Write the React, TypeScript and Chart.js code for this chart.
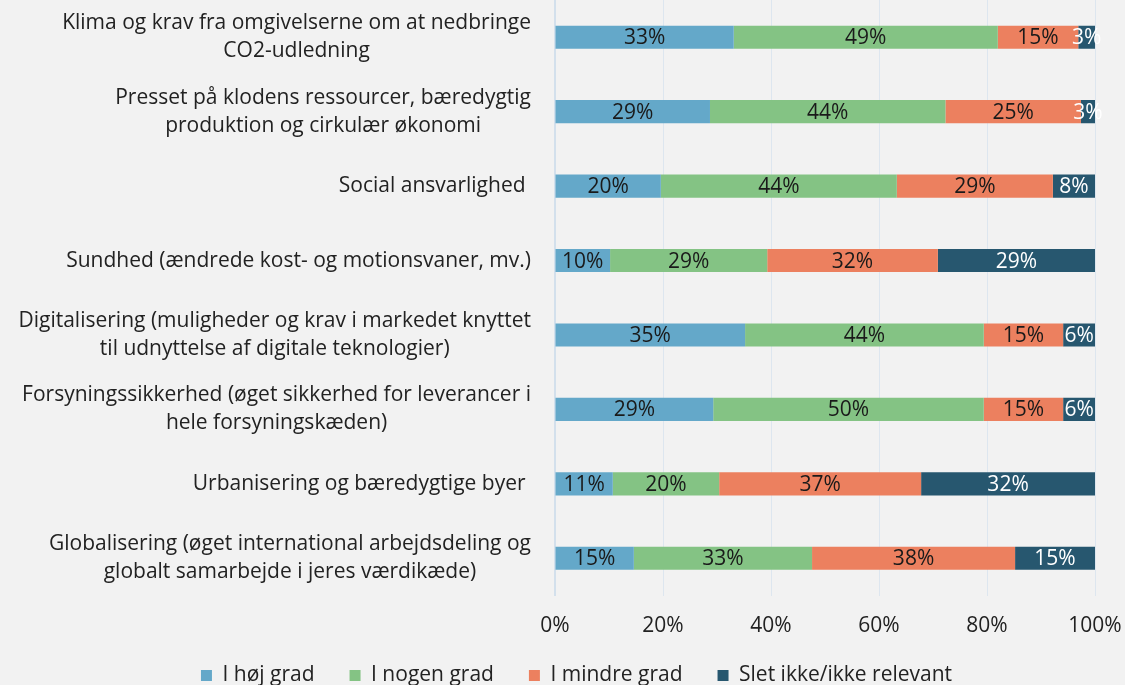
import React, { useEffect, useRef } from "react";
import { Chart, registerables } from "chart.js";

Chart.register(...registerables);

const categories: string[][] = [
  ["Klima og krav fra omgivelserne om at nedbringe", "CO2-udledning"],
  ["Presset på klodens ressourcer, bæredygtig", "produktion og cirkulær økonomi"],
  ["Social ansvarlighed "],
  ["Sundhed (ændrede kost- og motionsvaner, mv.)"],
  ["Digitalisering (muligheder og krav i markedet knyttet", "til udnyttelse af digitale teknologier)"],
  ["Forsyningssikkerhed (øget sikkerhed for leverancer i", "hele forsyningskæden)"],
  ["Urbanisering og bæredygtige byer "],
  ["Globalisering (øget international arbejdsdeling og", "globalt samarbejde i jeres værdikæde)"],
];

const seriesNames = ["I høj grad", "I nogen grad", "I mindre grad", "Slet ikke/ikke relevant"];
const hoejGrad = [33.1, 28.7, 19.6, 10.2, 35.2, 29.3, 10.7, 14.6];
const nogenGrad = [48.9, 43.6, 43.7, 29.1, 44.2, 50.1, 19.7, 33.0];
const mindreGrad = [14.9, 25.1, 28.9, 31.6, 14.7, 14.7, 37.4, 37.6];
const sletIkke = [3.1, 2.6, 7.8, 29.1, 5.9, 5.9, 32.2, 14.8];
const xTicks = [0, 20, 40, 60, 80, 100];

const colors = ["#64a8c9", "#84c384", "#ec805f", "#27576f"];
const labelColors = ["#1a1a1a", "#1a1a1a", "#1a1a1a", "#ffffff"];
const FONT = "'Open Sans', sans-serif";
const TEXT = "#222222";
const FS = 21;

export default function App() {
  const ref = useRef<HTMLCanvasElement | null>(null);

  useEffect(() => {
    document.body.style.margin = "0";
    document.body.style.background = "#f2f2f2";
    document.documentElement.style.overflow = "hidden";
    if (!ref.current) return;

    const valueLabels = {
      id: "valueLabels",
      afterDatasetsDraw(chart: any) {
        const ctx = chart.ctx;
        ctx.save();
        ctx.font = `${FS}px ${FONT}`;
        ctx.textAlign = "center";
        ctx.textBaseline = "middle";
        chart.data.datasets.forEach((ds: any, di: number) => {
          const meta = chart.getDatasetMeta(di);
          meta.data.forEach((el: any, i: number) => {
            const v = ds.data[i];
            const cx = (el.x + el.base) / 2;
            ctx.fillStyle = labelColors[di];
            ctx.fillText(Math.round(v) + "%", cx, el.y + 1);
          });
        });
        ctx.restore();
      },
    };

    const axisLabels = {
      id: "axisLabels",
      afterDraw(chart: any) {
        const ctx = chart.ctx;
        const y = chart.scales.y;
        const x = chart.scales.x;
        ctx.save();
        ctx.font = `${FS}px ${FONT}`;
        ctx.fillStyle = TEXT;
        ctx.textAlign = "center";
        ctx.textBaseline = "middle";
        const right = 531;
        const lh = 28;
        categories.forEach((lines, i) => {
          const cy = y.getPixelForValue(i);
          const w = Math.max(...lines.map((l) => ctx.measureText(l).width));
          const cx = right - w / 2;
          const top = cy - ((lines.length - 1) * lh) / 2;
          lines.forEach((l, k) => ctx.fillText(l, cx, top + k * lh));
        });
        const ty = chart.chartArea.bottom + 31;
        xTicks.forEach((v) => {
          ctx.fillText(v + "%", x.getPixelForValue(v), ty);
        });
        ctx.restore();
      },
    };

    const chart = new Chart(ref.current, {
      type: "bar",
      data: {
        labels: categories.map((c) => c.join(" ")),
        datasets: [hoejGrad, nogenGrad, mindreGrad, sletIkke].map((d, i) => ({
          label: seriesNames[i],
          data: d,
          backgroundColor: colors[i],
          borderWidth: 0,
          barPercentage: 0.31,
          categoryPercentage: 1,
        })),
      },
      options: {
        indexAxis: "y",
        responsive: false,
        animation: false,
        layout: { padding: { left: 58, right: 30, top: 0, bottom: 0 } },
        scales: {
          x: {
            stacked: true,
            min: 0,
            max: 100,
            afterBuildTicks(scale: any) {
              scale.ticks = xTicks.map((v) => ({ value: v }));
            },
            afterFit(scale: any) {
              scale.height = 34.5;
              scale.paddingRight = 0;
              scale.paddingLeft = 0;
            },
            ticks: { display: false },
            grid: { color: "#dde6ef", drawTicks: false, lineWidth: 1 },
            border: { display: false },
          },
          y: {
            stacked: true,
            afterFit(scale: any) {
              scale.width = 497;
            },
            ticks: { display: false },
            grid: { display: false },
            border: { display: true, color: "#d3e0ec", width: 2 },
          },
        },
        plugins: {
          legend: {
            position: "bottom",
            labels: {
              font: { family: FONT, size: FS },
              color: TEXT,
              boxWidth: 11,
              boxHeight: 11,
              padding: 35,
            },
          },
          tooltip: { enabled: false },
        },
      },
      plugins: [valueLabels, axisLabels],
    } as any);

    return () => chart.destroy();
  }, []);

  return (
    <div style={{ width: 1125, height: 685, overflow: "hidden", background: "#f2f2f2" }}>
      <canvas ref={ref} width={1125} height={696} style={{ display: "block" }} />
    </div>
  );
}
